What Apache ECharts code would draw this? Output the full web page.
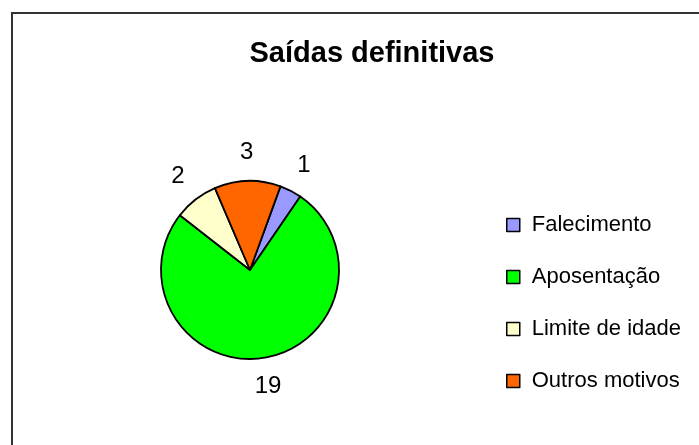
<!DOCTYPE html>
<html>
<head>
<meta charset="utf-8">
<script src="https://cdn.jsdelivr.net/npm/echarts@6/dist/echarts.min.js"></script>
<style>
  html, body { margin: 0; padding: 0; background: #fff; }
  #chart { width: 699px; height: 445px; }
</style>
</head>
<body>
<div id="chart"></div>
<script>
  // categorias e valores
  var categorias = ['Falecimento', 'Aposentação', 'Limite de idade', 'Outros motivos']
  var valores = [1, 19, 2, 3]
  var cores = ['#9999ff', '#00ff00', '#ffffcc', '#ff6600']

  var fonte = '"Liberation Sans", Arial, sans-serif'

  function montarDados() {
    return categorias.map(function (nome, i) {
      return {name: nome, value: valores[i], itemStyle: {color: cores[i]}}
    })
  }

  var chart = echarts.init(document.getElementById('chart'), null, {renderer: 'canvas'})

  chart.setOption({
    animation: false,
    backgroundColor: '#ffffff',
    title: {
      text: 'Saídas definitivas',
      left: 367,
      top: 34,
      textAlign: 'center',
      textStyle: {fontFamily: fonte, fontSize: 29, fontWeight: 'bold', color: '#000'}
    },
    legend: {
      orient: 'vertical',
      left: 501,
      top: 209,
      itemWidth: 13,
      itemHeight: 13,
      itemGap: 30,
      icon: 'rect',
      selectedMode: false,
      data: categorias,
      itemStyle: {borderColor: '#000', borderWidth: 1.5},
      textStyle: {fontFamily: fonte, fontSize: 22, color: '#000', lineHeight: 22, padding: [0, 0, 0, 7]}
    },
    graphic: [{
      type: 'rect',
      shape: {x: 12, y: 13, width: 760, height: 500},
      style: {fill: 'none', stroke: '#333', lineWidth: 2},
      silent: true
    }],
    series: [
      {
        type: 'pie',
        center: [250, 270],
        radius: 89,
        startAngle: 70,
        clockwise: true,
        silent: true,
        label: {show: false},
        labelLine: {show: false},
        itemStyle: {borderColor: '#000', borderWidth: 1.8},
        data: montarDados()
      },
      // anel invisível só para posicionar os rótulos
      {
        type: 'pie',
        center: [250, 270],
        radius: [89, 141],
        startAngle: 70,
        clockwise: true,
        silent: true,
        itemStyle: {color: 'rgba(0,0,0,0)'},
        label: {
          show: true,
          position: 'inside',
          formatter: '{c}',
          fontFamily: fonte,
          fontSize: 24,
          color: '#000'
        },
        labelLine: {show: false},
        data: categorias.map(function (nome, i) {
          return {name: nome, value: valores[i]}
        })
      }
    ]
  })
</script>
</body>
</html>
